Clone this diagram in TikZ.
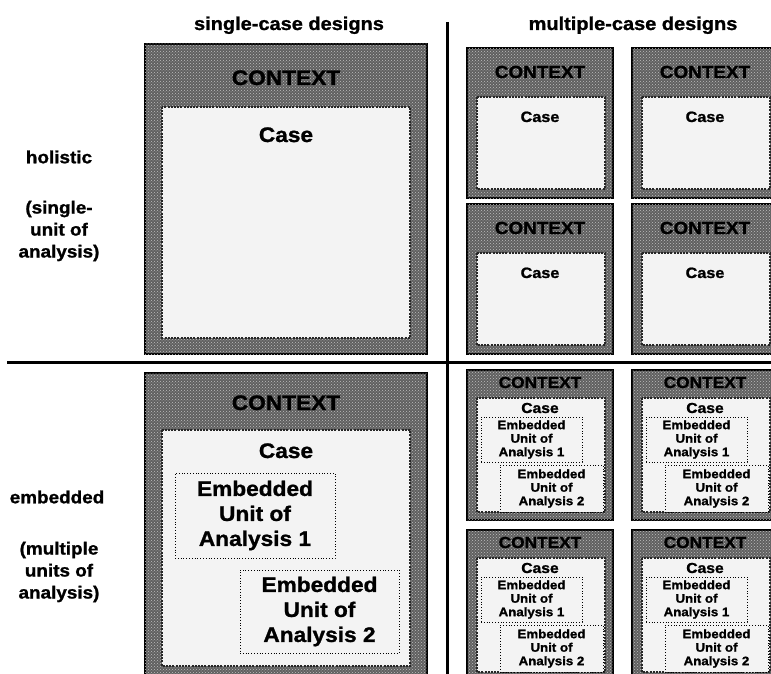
\documentclass[tikz,border=0pt]{standalone}
\usepackage{fontspec}
\setmainfont[FakeStretch=1.08,BoldFeatures={FakeBold=1.2}]{Liberation Sans}
\usetikzlibrary{patterns}
\begin{document}
\begin{tikzpicture}[x=1pt,y=-1pt,
  context/.style={draw=black,line width=2.4pt,fill=ctxgray,
    postaction={pattern=crosshatch dots,pattern color=white!75!black}},
  casebox/.style={draw=black!85,line width=2pt,dash pattern=on 2pt off 1.2pt,fill=casegray},
  unitbox/.style={draw=black,line width=0.8pt,dotted,fill=casegray,align=center,inner sep=0pt},
  txt/.style={font=\bfseries,align=center,inner sep=0pt},
  bigtxt/.style={txt,font=\bfseries\fontsize{21}{25}\selectfont},
  sidetxt/.style={txt,font=\bfseries\fontsize{17.5}{22}\selectfont}]
  \definecolor{ctxgray}{HTML}{606060}
  \definecolor{casegray}{HTML}{F3F3F3}
  \useasboundingbox (0,0) rectangle (771,674);
  \clip (0,0) rectangle (771,674);
  \draw [line width=3pt] (447,22) -- (447,674);
  \draw [line width=3pt] (7,362) -- (771,362);
  \node [txt,anchor=base,font=\bfseries\fontsize{18.5}{22}\selectfont] (single) at (289,30) {single-case designs};
  \node [txt,anchor=base,font=\bfseries\fontsize{18.5}{22}\selectfont] (multiple) at (633,30) {multiple-case designs};
  \node [sidetxt] (holistic) at (59,157) {holistic};
  \node [sidetxt] (holunit) at (59,231) {(single-\\unit of\\analysis)};
  \node [sidetxt] (embedded) at (57,497) {embedded};
  \node [sidetxt] (embunits) at (59,572) {(multiple\\units of\\analysis)};
  \draw [context] (145,44) rectangle (427,354);
  \draw [casebox] (162,107) rectangle (410,338);
  \node [bigtxt,anchor=base] (ctxA) at (286,85) {CONTEXT};
  \node [bigtxt,anchor=base] (caseA) at (286,142) {Case};
  \draw [context] (145,373) rectangle (427,690);
  \draw [casebox] (162,430) rectangle (410,666);
  \node [bigtxt,anchor=base] (ctxB) at (286,410) {CONTEXT};
  \node [bigtxt,anchor=base] (caseB) at (286,458) {Case};
  \node [unitbox,font=\bfseries\fontsize{21}{25}\selectfont,minimum width=160pt,minimum height=85pt] (unitB1) at (255,515.5) {Embedded\\Unit of\\Analysis 1};
  \node [unitbox,font=\bfseries\fontsize{21}{25}\selectfont,minimum width=159pt,minimum height=83pt] (unitB2) at (319.5,611.5) {Embedded\\Unit of\\Analysis 2};
  \foreach \x in {467,632}
    \foreach \y in {48,204} {
      \draw [context] (\x,\y) rectangle ++(146,150);
      \draw [casebox,line width=1.7pt] (\x+10,\y+49) rectangle (\x+138,\y+141);
      \node [txt,anchor=base,font=\bfseries\fontsize{17.5}{20}\selectfont] (ctx-\x-\y) at (\x+73,\y+30) {CONTEXT};
      \node [txt,anchor=base,font=\bfseries\fontsize{15}{18}\selectfont] (case-\x-\y) at (\x+73,\y+74) {Case};
    }
  \foreach \x in {467,632}
    \foreach \y in {370,530} {
      \draw [context] (\x,\y) rectangle ++(146,150);
      \draw [casebox,line width=1.7pt] (\x+10,\y+28) rectangle (\x+138,\y+142);
      \node [txt,anchor=base,font=\bfseries\fontsize{16}{18}\selectfont] (ctx-\x-\y) at (\x+73,\y+18) {CONTEXT};
      \node [txt,anchor=base,font=\bfseries\fontsize{14.5}{16}\selectfont] (case-\x-\y) at (\x+73,\y+43) {Case};
      \node [unitbox,font=\bfseries\fontsize{12.3}{13.5}\selectfont,minimum width=101pt,minimum height=45pt] (unit1-\x-\y) at (\x+64.5,\y+69.5) {Embedded\\Unit of\\Analysis 1};
      \node [unitbox,font=\bfseries\fontsize{12.3}{13.5}\selectfont,minimum width=103pt,minimum height=47pt] (unit2-\x-\y) at (\x+84.5,\y+118.5) {Embedded\\Unit of\\Analysis 2};
    }
\end{tikzpicture}
\end{document}
